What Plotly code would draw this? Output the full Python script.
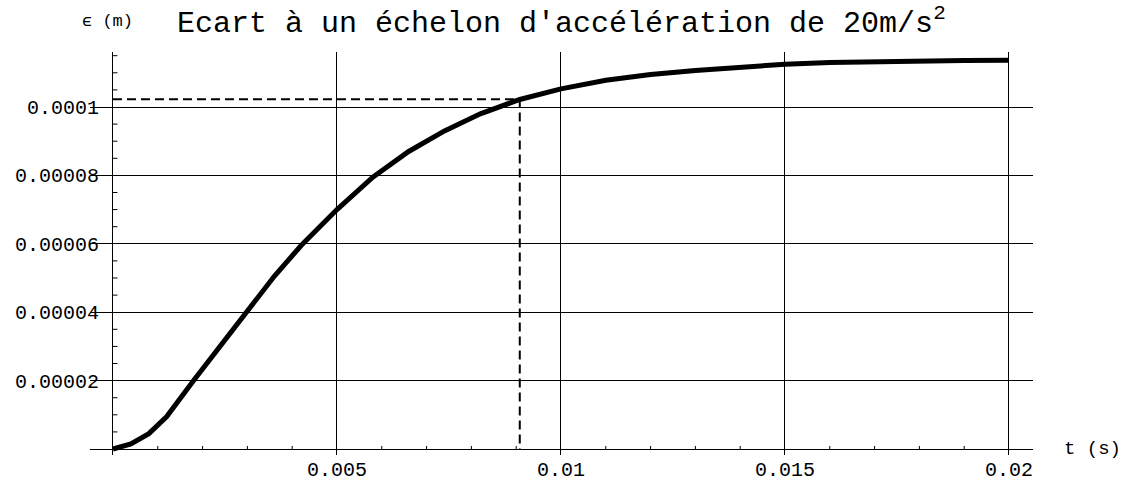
import numpy as np
import plotly.graph_objects as go

# ---- data ----
t_s = [0, 0.0004, 0.0008, 0.0012, 0.0018, 0.0024, 0.003, 0.0036, 0.0042,
       0.005, 0.0058, 0.0066, 0.0074, 0.0082, 0.00908, 0.01, 0.011, 0.012,
       0.013, 0.014, 0.015, 0.016, 0.017, 0.018, 0.019, 0.02]
eps_m = [0, 0.15e-5, 0.45e-5, 0.95e-5, 2.0e-5, 3.0e-5, 4.05e-5, 5.05e-5, 5.95e-5,
         7.0e-5, 7.95e-5, 8.7e-5, 9.3e-5, 9.8e-5, 10.22e-5, 10.53e-5, 10.78e-5,
         10.95e-5, 11.07e-5, 11.16e-5, 11.25e-5, 11.3e-5, 11.33e-5, 11.35e-5,
         11.36e-5, 11.37e-5]

t_mark = 0.00908
eps_mark = 1.0225e-4

x_tickvals = [0.005, 0.01, 0.015, 0.02]
x_ticktext = ["0.005", "0.01", "0.015", "0.02"]
y_tickvals = [2e-5, 4e-5, 6e-5, 8e-5, 1e-4]
y_ticktext = ["0.00002", "0.00004", "0.00006", "0.00008", "0.0001"]

title_text = "Ecart à un échelon d'accélération de 20m/s<sup>2</sup>"
y_label = "ϵ (m)"
x_label = "t (s)"

MONO = "Liberation Mono, Courier New, monospace"

fig = go.Figure()

# dashed markers
fig.add_trace(go.Scatter(x=[0, t_mark, t_mark], y=[eps_mark, eps_mark, 0],
                         mode="lines", line=dict(color="black", width=2, dash="9px,5px"),
                         hoverinfo="skip", showlegend=False))
# curve
fig.add_trace(go.Scatter(x=t_s, y=eps_m, mode="lines",
                         line=dict(color="black", width=5), showlegend=False))

# minor ticks
shapes = []
for tx in np.arange(0.001, 0.02001, 0.001):
    if abs(tx / 0.005 - round(tx / 0.005)) < 1e-6:
        continue
    shapes.append(dict(type="line", xref="x", yref="y", x0=tx, x1=tx, y0=0, y1=0.9e-6,
                       line=dict(color="black", width=1)))
for vy in np.arange(5e-6, 1.16e-4, 5e-6):
    if abs(vy / 2e-5 - round(vy / 2e-5)) < 1e-6:
        continue
    shapes.append(dict(type="line", xref="x", yref="y", x0=0, x1=0.0001, y0=vy, y1=vy,
                       line=dict(color="black", width=1)))

fig.update_layout(
    width=1128, height=481,
    margin=dict(l=90, r=95, t=52, b=26, autoexpand=False),
    paper_bgcolor="white", plot_bgcolor="white",
    shapes=shapes,
    title=dict(text=title_text, x=177 / 1128, xanchor="left", xref="container",
               y=1 - 21 / 481, yanchor="middle", yref="container",
               font=dict(family=MONO, size=30, color="black")),
    xaxis=dict(range=[-0.000513, 0.020536], tickvals=x_tickvals, ticktext=x_ticktext,
               showgrid=True, gridcolor="black", gridwidth=1, automargin=False,
               zeroline=True, zerolinecolor="black", zerolinewidth=1,
               showline=False, ticks="", tickfont=dict(family=MONO, size=20, color="black")),
    yaxis=dict(range=[-1.75e-6, 1.1608e-4], tickvals=y_tickvals, ticktext=y_ticktext,
               showgrid=True, gridcolor="black", gridwidth=1, automargin=False,
               zeroline=True, zerolinecolor="black", zerolinewidth=1,
               showline=False, ticks="", ticklabelstandoff=-10,
               tickfont=dict(family=MONO, size=20, color="black")),
    annotations=[
        dict(text=y_label, xref="paper", yref="paper", x=(80 - 90) / 943, y=1 + 30 / 403,
             xanchor="left", yanchor="middle", showarrow=False,
             font=dict(family=MONO, size=17, color="black")),
        dict(text=x_label, xref="paper", yref="paper", x=(1062 - 90) / 943, y=6 / 403,
             xanchor="left", yanchor="middle", showarrow=False,
             font=dict(family=MONO, size=19, color="black")),
    ],
)

fig.write_html("out.html", config={"displayModeBar": False},
               post_script="document.body.style.margin='0';document.body.style.padding='0';")
